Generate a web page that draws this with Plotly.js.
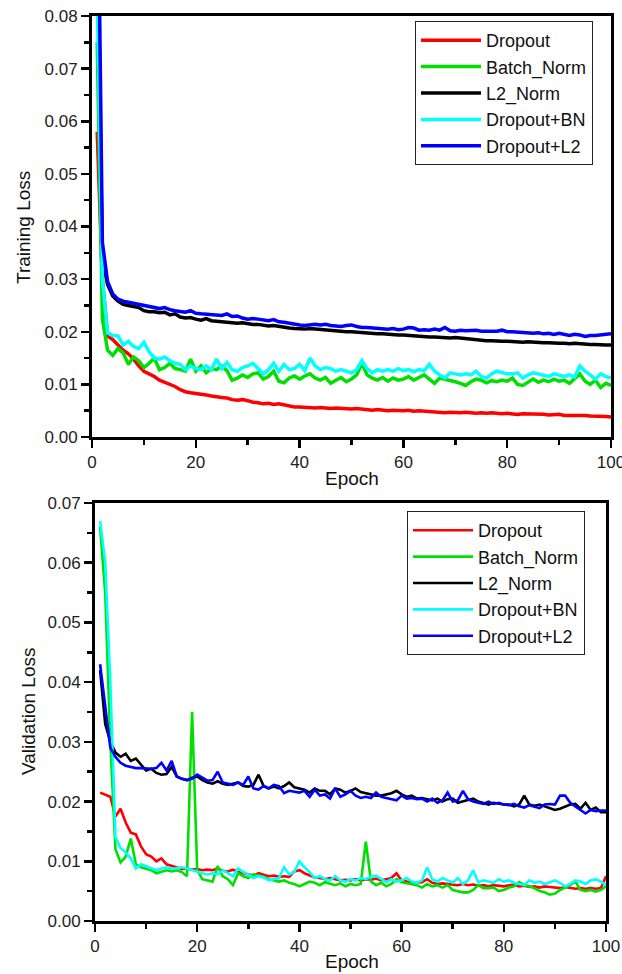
<!DOCTYPE html>
<html>
<head>
<meta charset="utf-8">
<script src="https://cdn.plot.ly/plotly-3.0.1.min.js"></script>
<style>html,body{margin:0;padding:0;background:#fff;}#chart{width:622px;height:974px;}</style>
</head>
<body>
<div id="chart"></div>
<script>
const seriesNames = ["Dropout", "Batch_Norm", "L2_Norm", "Dropout+BN", "Dropout+L2"];
const seriesColors = ["#ff0000", "#00e000", "#000000", "#00ffff", "#0000ff"];
const xTickVals = [0, 20, 40, 60, 80, 100];

// Training loss (epochs 1..100)
const trainDropout = [0.058,0.030,0.0192,0.0185,0.0175,0.0165,0.0158,0.0148,0.0135,0.0125,
0.0120,0.0115,0.0108,0.0104,0.0100,0.0096,0.0090,0.0086,0.0084,0.0083,
0.0082,0.0080,0.0078,0.0076,0.0075,0.0074,0.0071,0.0070,0.0071,0.0069,
0.0066,0.0065,0.0063,0.0064,0.0062,0.0063,0.0061,0.0059,0.0057,0.0057,
0.0056,0.0056,0.0055,0.0056,0.0055,0.0054,0.0055,0.0054,0.0054,0.0053,
0.0054,0.0053,0.0052,0.0051,0.0052,0.0051,0.0050,0.0051,0.0050,0.0050,
0.0051,0.0049,0.0050,0.0049,0.0048,0.0048,0.0046,0.0046,0.0047,0.0046,
0.0046,0.0047,0.0046,0.0045,0.0046,0.0045,0.0046,0.0045,0.0044,0.0045,
0.0044,0.0043,0.0044,0.0044,0.0043,0.0044,0.0043,0.0042,0.0043,0.0043,
0.0041,0.0041,0.0042,0.0041,0.0041,0.0040,0.0040,0.0039,0.0039,0.0038];
const trainBatchNorm = [0.075,0.0225,0.0165,0.0155,0.0168,0.0160,0.0138,0.0152,0.0145,0.0132,
0.0140,0.0150,0.0128,0.0132,0.0140,0.0130,0.0128,0.0125,0.0148,0.0125,
0.0135,0.0122,0.0130,0.0128,0.0135,0.0126,0.0108,0.0112,0.0118,0.0113,
0.0120,0.0122,0.0110,0.0115,0.0125,0.0106,0.0103,0.0112,0.0116,0.0110,
0.0116,0.0120,0.0112,0.0108,0.0113,0.0102,0.0108,0.0113,0.0105,0.0110,
0.0118,0.0140,0.0118,0.0112,0.0108,0.0113,0.0106,0.0112,0.0108,0.0110,
0.0115,0.0108,0.0113,0.0118,0.0110,0.0102,0.0112,0.0110,0.0108,0.0105,
0.0102,0.0098,0.0105,0.0110,0.0108,0.0103,0.0107,0.0105,0.0108,0.0106,
0.0112,0.0100,0.0098,0.0105,0.0110,0.0104,0.0108,0.0105,0.0110,0.0106,
0.0108,0.0102,0.0112,0.0120,0.0106,0.0100,0.0108,0.0094,0.0102,0.0098];
const trainL2Norm = [0.095,0.0340,0.0290,0.0268,0.0258,0.0252,0.0250,0.0248,0.0246,0.0240,
0.0238,0.0238,0.0236,0.0237,0.0232,0.0234,0.0228,0.0226,0.0227,0.0224,
0.0222,0.0225,0.0221,0.0220,0.0219,0.0218,0.0218,0.0216,0.0217,0.0215,
0.0214,0.0214,0.0212,0.0211,0.0212,0.0210,0.0209,0.0207,0.0206,0.0205,
0.0205,0.0206,0.0205,0.0204,0.0203,0.0202,0.0202,0.0201,0.0200,0.0200,
0.0199,0.0198,0.0198,0.0197,0.0196,0.0196,0.0195,0.0195,0.0194,0.0194,
0.0193,0.0193,0.0192,0.0191,0.0190,0.0190,0.0189,0.0188,0.0188,0.0189,
0.0188,0.0186,0.0185,0.0184,0.0183,0.0183,0.0183,0.0182,0.0182,0.0182,
0.0181,0.0181,0.0180,0.0181,0.0180,0.0180,0.0179,0.0179,0.0178,0.0178,
0.0178,0.0177,0.0178,0.0177,0.0176,0.0176,0.0176,0.0175,0.0175,0.0175];
const trainDropoutBN = [0.085,0.0300,0.0198,0.0193,0.0192,0.0175,0.0182,0.0172,0.0168,0.0180,
0.0162,0.0150,0.0148,0.0152,0.0145,0.0140,0.0138,0.0128,0.0135,0.0130,
0.0128,0.0135,0.0128,0.0148,0.0130,0.0142,0.0128,0.0125,0.0132,0.0135,
0.0140,0.0130,0.0120,0.0128,0.0140,0.0125,0.0138,0.0128,0.0130,0.0138,
0.0126,0.0150,0.0135,0.0128,0.0132,0.0130,0.0125,0.0128,0.0125,0.0122,
0.0128,0.0145,0.0130,0.0122,0.0128,0.0125,0.0128,0.0125,0.0130,0.0126,
0.0128,0.0124,0.0128,0.0126,0.0138,0.0125,0.0118,0.0112,0.0122,0.0120,
0.0118,0.0120,0.0118,0.0125,0.0115,0.0112,0.0120,0.0125,0.0122,0.0120,
0.0120,0.0122,0.0112,0.0118,0.0122,0.0120,0.0118,0.0115,0.0120,0.0118,
0.0115,0.0118,0.0114,0.0135,0.0125,0.0118,0.0110,0.0120,0.0115,0.0112];
const trainDropoutL2 = [0.120,0.0370,0.0295,0.0272,0.0262,0.0258,0.0256,0.0254,0.0252,0.0251,
0.0248,0.0246,0.0244,0.0246,0.0242,0.0240,0.0238,0.0237,0.0240,0.0235,
0.0234,0.0233,0.0233,0.0232,0.0231,0.0234,0.0229,0.0230,0.0226,0.0224,
0.0225,0.0224,0.0222,0.0221,0.0223,0.0219,0.0218,0.0216,0.0215,0.0213,
0.0212,0.0213,0.0214,0.0213,0.0214,0.0212,0.0211,0.0210,0.0212,0.0213,
0.0210,0.0208,0.0208,0.0207,0.0207,0.0206,0.0205,0.0206,0.0204,0.0205,
0.0208,0.0207,0.0203,0.0204,0.0203,0.0205,0.0203,0.0208,0.0202,0.0201,
0.0203,0.0202,0.0202,0.0203,0.0201,0.0201,0.0200,0.0201,0.0203,0.0200,
0.0200,0.0199,0.0198,0.0197,0.0197,0.0198,0.0196,0.0197,0.0195,0.0197,
0.0195,0.0193,0.0195,0.0194,0.0191,0.0193,0.0193,0.0194,0.0196,0.0196];

// Validation loss (epochs 1..100)
const valDropout = [0.0215,0.0212,0.0208,0.0175,0.0188,0.0165,0.0148,0.0145,0.0125,0.0112,
0.0108,0.0100,0.0105,0.0095,0.0092,0.0090,0.0087,0.0088,0.0086,0.0087,
0.0085,0.0086,0.0085,0.0088,0.0084,0.0083,0.0086,0.0082,0.0080,0.0078,
0.0076,0.0080,0.0077,0.0075,0.0076,0.0074,0.0075,0.0074,0.0083,0.0085,
0.0080,0.0076,0.0073,0.0072,0.0070,0.0072,0.0070,0.0068,0.0069,0.0068,
0.0070,0.0068,0.0070,0.0069,0.0071,0.0068,0.0070,0.0072,0.0080,0.0068,
0.0066,0.0065,0.0064,0.0065,0.0070,0.0064,0.0062,0.0063,0.0062,0.0060,
0.0060,0.0062,0.0060,0.0061,0.0059,0.0060,0.0058,0.0060,0.0059,0.0058,
0.0060,0.0061,0.0058,0.0059,0.0057,0.0058,0.0056,0.0058,0.0057,0.0056,
0.0055,0.0057,0.0056,0.0054,0.0055,0.0054,0.0055,0.0054,0.0055,0.0075];
const valBatchNorm = [0.0660,0.0550,0.0300,0.0120,0.0098,0.0108,0.0138,0.0095,0.0090,0.0088,
0.0085,0.0080,0.0082,0.0085,0.0083,0.0085,0.0082,0.0075,0.0350,0.0085,
0.0070,0.0068,0.0066,0.0092,0.0075,0.0070,0.0060,0.0080,0.0075,0.0072,
0.0078,0.0076,0.0074,0.0070,0.0068,0.0066,0.0068,0.0064,0.0062,0.0058,
0.0062,0.0066,0.0064,0.0060,0.0065,0.0062,0.0060,0.0063,0.0058,0.0062,
0.0060,0.0062,0.0133,0.0066,0.0060,0.0064,0.0058,0.0062,0.0070,0.0065,
0.0063,0.0062,0.0060,0.0056,0.0062,0.0058,0.0060,0.0056,0.0060,0.0052,
0.0050,0.0048,0.0048,0.0052,0.0060,0.0055,0.0055,0.0056,0.0050,0.0052,
0.0056,0.0058,0.0065,0.0060,0.0058,0.0055,0.0050,0.0048,0.0044,0.0046,
0.0052,0.0056,0.0060,0.0066,0.0052,0.0050,0.0052,0.0049,0.0052,0.0058];
const valL2Norm = [0.0420,0.0330,0.0300,0.0282,0.0275,0.0280,0.0268,0.0272,0.0262,0.0252,
0.0255,0.0248,0.0245,0.0246,0.0258,0.0242,0.0238,0.0236,0.0240,0.0242,
0.0236,0.0232,0.0230,0.0234,0.0230,0.0228,0.0230,0.0232,0.0226,0.0225,
0.0228,0.0245,0.0226,0.0222,0.0225,0.0222,0.0226,0.0232,0.0224,0.0222,
0.0220,0.0215,0.0222,0.0218,0.0218,0.0212,0.0222,0.0220,0.0215,0.0218,
0.0222,0.0216,0.0214,0.0212,0.0210,0.0210,0.0212,0.0214,0.0218,0.0212,
0.0208,0.0210,0.0205,0.0206,0.0204,0.0202,0.0205,0.0200,0.0204,0.0205,
0.0198,0.0200,0.0202,0.0205,0.0200,0.0198,0.0195,0.0198,0.0196,0.0195,
0.0195,0.0192,0.0195,0.0210,0.0195,0.0193,0.0195,0.0192,0.0188,0.0186,
0.0188,0.0192,0.0195,0.0196,0.0188,0.0198,0.0186,0.0190,0.0182,0.0182];
const valDropoutBN = [0.0670,0.0600,0.0400,0.0140,0.0122,0.0115,0.0105,0.0088,0.0095,0.0092,
0.0088,0.0085,0.0088,0.0090,0.0087,0.0088,0.0090,0.0088,0.0085,0.0082,
0.0080,0.0078,0.0080,0.0078,0.0085,0.0080,0.0075,0.0088,0.0082,0.0078,
0.0072,0.0075,0.0073,0.0068,0.0070,0.0072,0.0090,0.0078,0.0082,0.0100,
0.0090,0.0082,0.0072,0.0075,0.0070,0.0068,0.0075,0.0068,0.0066,0.0070,
0.0068,0.0072,0.0070,0.0074,0.0076,0.0070,0.0065,0.0070,0.0066,0.0068,
0.0072,0.0066,0.0064,0.0068,0.0090,0.0070,0.0066,0.0072,0.0068,0.0064,
0.0072,0.0062,0.0068,0.0085,0.0065,0.0068,0.0066,0.0064,0.0070,0.0066,
0.0068,0.0064,0.0062,0.0060,0.0068,0.0064,0.0066,0.0062,0.0065,0.0068,
0.0064,0.0058,0.0062,0.0068,0.0066,0.0062,0.0068,0.0070,0.0066,0.0060];
const valDropoutL2 = [0.0430,0.0360,0.0290,0.0275,0.0265,0.0260,0.0258,0.0256,0.0256,0.0255,
0.0255,0.0256,0.0265,0.0252,0.0268,0.0242,0.0238,0.0236,0.0238,0.0245,
0.0240,0.0235,0.0236,0.0250,0.0232,0.0230,0.0228,0.0232,0.0228,0.0242,
0.0222,0.0220,0.0226,0.0222,0.0228,0.0226,0.0214,0.0218,0.0216,0.0215,
0.0218,0.0208,0.0220,0.0210,0.0212,0.0205,0.0222,0.0208,0.0212,0.0218,
0.0210,0.0206,0.0208,0.0206,0.0215,0.0208,0.0206,0.0204,0.0202,0.0210,
0.0205,0.0206,0.0204,0.0205,0.0200,0.0205,0.0198,0.0202,0.0215,0.0200,
0.0202,0.0218,0.0204,0.0200,0.0198,0.0196,0.0200,0.0196,0.0198,0.0195,
0.0194,0.0196,0.0192,0.0190,0.0194,0.0192,0.0189,0.0195,0.0196,0.0195,
0.0210,0.0210,0.0198,0.0192,0.0186,0.0180,0.0186,0.0184,0.0185,0.0185];

const epochs = trainDropout.map((_, i) => i + 1);
const trainSets = [trainDropout, trainBatchNorm, trainL2Norm, trainDropoutBN, trainDropoutL2];
const valSets = [valDropout, valBatchNorm, valL2Norm, valDropoutBN, valDropoutL2];

const traces = [];
trainSets.forEach((ys, i) => traces.push({
  x: epochs, y: ys, type: 'scatter', mode: 'lines', name: seriesNames[i],
  line: {color: seriesColors[i], width: 3.5}, xaxis: 'x', yaxis: 'y', legend: 'legend'
}));
valSets.forEach((ys, i) => traces.push({
  x: epochs, y: ys, type: 'scatter', mode: 'lines', name: seriesNames[i],
  line: {color: seriesColors[i], width: 2.6}, xaxis: 'x2', yaxis: 'y2', legend: 'legend2'
}));

const W = 622, H = 974;
const FONT = 'Liberation Sans, Arial, sans-serif';
const tickFont = {family: FONT, size: 17, color: '#222'};

function xAx(l, r) {
  return {
    domain: [l / W, r / W], range: [0, 100], tickvals: xTickVals,
    showline: true, linewidth: 3, linecolor: '#000', mirror: true,
    ticks: 'outside', ticklen: 8, tickwidth: 2.5, tickcolor: '#000',
    minor: {dtick: 10, ticklen: 5, tickwidth: 2.5, tickcolor: '#000', ticks: 'outside'},
    showgrid: false, zeroline: false, tickfont: tickFont, fixedrange: true,
    ticklabeloverflow: 'allow'
  };
}
function yAx(top, bot, max) {
  return {
    domain: [(H - bot) / H, (H - top) / H], range: [0, max], dtick: 0.01, tick0: 0,
    tickformat: '.2f',
    showline: true, linewidth: 3, linecolor: '#000', mirror: true,
    ticks: 'outside', ticklen: 8, tickwidth: 2.5, tickcolor: '#000',
    minor: {dtick: 0.005, ticklen: 5, tickwidth: 2.5, tickcolor: '#000', ticks: 'outside'},
    showgrid: false, zeroline: false, tickfont: tickFont, fixedrange: true,
    ticklabeloverflow: 'allow'
  };
}
const legendCommon = {
  xanchor: 'left', yanchor: 'top', bgcolor: '#fff', bordercolor: '#222', borderwidth: 1,
  font: {family: FONT, size: 18, color: '#111'}, itemwidth: 60, tracegroupgap: 0
};
const titleFont = {family: FONT, size: 19, color: '#111'};

const layout = {
  width: W, height: H, margin: {l: 0, r: 0, t: 0, b: 0},
  paper_bgcolor: '#fff', plot_bgcolor: '#fff', showlegend: true,
  xaxis: xAx(92, 611), yaxis: yAx(16, 437, 0.08),
  xaxis2: Object.assign(xAx(95, 606), {anchor: 'y2'}),
  yaxis2: Object.assign(yAx(503, 921, 0.07), {anchor: 'x2'}),
  legend: Object.assign({x: 415 / W, y: (H - 21) / H}, legendCommon),
  legend2: Object.assign({x: 407 / W, y: (H - 511) / H}, legendCommon),
  annotations: [
    {text: 'Epoch', xref: 'paper', yref: 'paper', x: 352 / W, y: (H - 478) / H, showarrow: false, font: titleFont, xanchor: 'center', yanchor: 'middle'},
    {text: 'Training Loss', xref: 'paper', yref: 'paper', x: 23 / W, y: (H - 228) / H, showarrow: false, font: titleFont, textangle: -90, xanchor: 'center', yanchor: 'middle'},
    {text: 'Epoch', xref: 'paper', yref: 'paper', x: 352 / W, y: (H - 961) / H, showarrow: false, font: titleFont, xanchor: 'center', yanchor: 'middle'},
    {text: 'Validation Loss', xref: 'paper', yref: 'paper', x: 28 / W, y: (H - 712) / H, showarrow: false, font: titleFont, textangle: -90, xanchor: 'center', yanchor: 'middle'}
  ]
};
layout.xaxis.anchor = 'y';
layout.yaxis.anchor = 'x';

Plotly.newPlot('chart', traces, layout, {staticPlot: true, displayModeBar: false});
</script>
</body>
</html>
